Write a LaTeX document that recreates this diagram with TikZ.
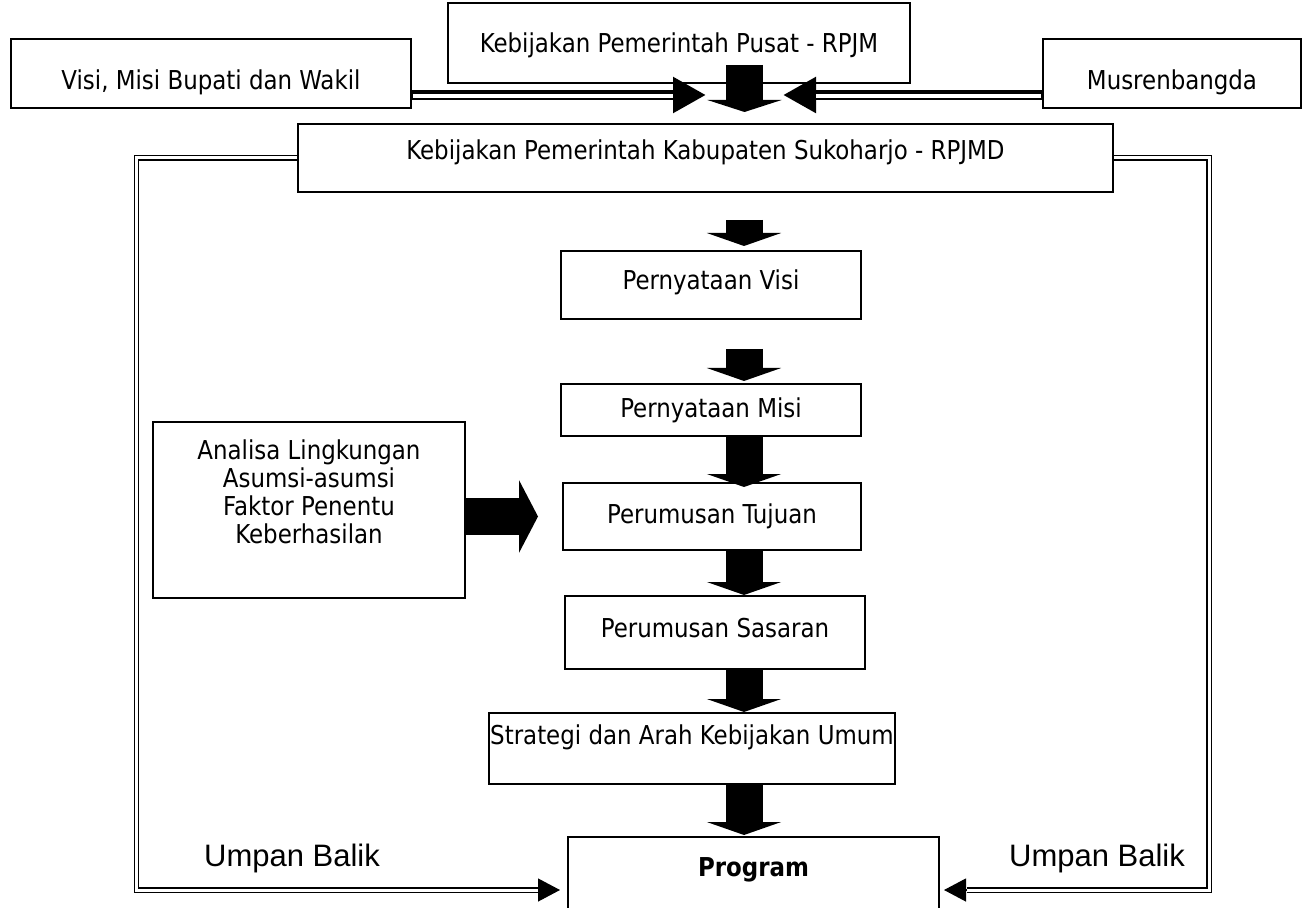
\documentclass[tikz,border=0pt]{standalone}
\usepackage{fontspec}
\setmainfont{DejaVu Sans Condensed}[FakeStretch=0.98]
\newfontfamily\arialfont{Liberation Sans}
\usetikzlibrary{arrows.meta}

\begin{document}
\begin{tikzpicture}[x=0.5pt, y=-0.5pt,
    box/.style={draw, line width=1pt, inner sep=0pt, anchor=north west,
      font=\fontsize{13}{14}\selectfont},
    blockarrow/.style={line width=18.5pt, -{Triangle[length=6.5pt,width=37pt]}},
    sidearrow/.style={line width=18.5pt, -{Triangle[length=9.5pt,width=36pt]}},
    band/.style={line width=5.2pt, -{Triangle[length=16.5pt,width=17pt]}},
    gap/.style={white, line width=1.8pt},
    feedback/.style={double, double distance=1.5pt, line width=0.6pt},
    feedtip/.style={line width=0.6pt, -{Triangle[length=11pt,width=11.5pt]}},
    note/.style={font=\arialfont\fontsize{15.5}{18}\selectfont}]
  \useasboundingbox (0,0) rectangle (1309,908);

  % top row
  \node[box, minimum width=200pt, minimum height=34.5pt, text height=16.5pt, text depth=0pt]
    (visimisi) at (10,38) {Visi, Misi Bupati dan Wakil};
  \node[box, minimum width=231pt, minimum height=40pt, text height=10pt, text depth=0pt]
    (pusat) at (447,2) {Kebijakan Pemerintah Pusat - RPJM};
  \node[box, minimum width=129pt, minimum height=34.5pt, text height=16.5pt, text depth=0pt]
    (musren) at (1042,38) {Musrenbangda};
  \node[box, minimum width=407.5pt, minimum height=34pt, text height=10pt, text depth=8pt]
    (rpjmd) at (297,123) {Kebijakan Pemerintah Kabupaten Sukoharjo - RPJMD};

  % main column
  \node[box, minimum width=150pt, minimum height=34pt, text height=10pt, text depth=5pt]
    (pvisi) at (560,250) {Pernyataan Visi};
  \node[box, minimum width=150pt, minimum height=26pt, text height=10pt, text depth=3pt]
    (pmisi) at (560,383) {Pernyataan Misi};
  \node[box, minimum width=149pt, minimum height=33.5pt, text height=10pt, text depth=3.5pt]
    (tujuan) at (562,482) {Perumusan Tujuan};
  \node[box, minimum width=150pt, minimum height=36.5pt, text height=10pt, text depth=5.5pt]
    (sasaran) at (564,595) {Perumusan Sasaran};
  \node[box, minimum width=203pt, minimum height=35.5pt, text height=10pt, text depth=14.5pt]
    (strategi) at (488,712) {Strategi dan Arah Kebijakan Umum};
  \node[box, minimum width=185.5pt, minimum height=53pt, text height=10pt, text depth=24pt]
    (program) at (567,836) {\bfseries Program};

  \node[box, minimum width=156pt, minimum height=88pt, align=center, text depth=18pt]
    (analisa) at (152,421) {Analisa Lingkungan\\Asumsi-asumsi\\Faktor Penentu\\Keberhasilan};

  \node[note] (umpankiri) at (292,858) {Umpan Balik};
  \node[note] (umpankanan) at (1097,858) {Umpan Balik};

  \coordinate (hub) at (744.5,95);
  \coordinate (col) at (744,0);
  \coordinate (fbl) at (136.5,500);
  \coordinate (fbr) at (1209,500);

  % inputs into the hub
  \path (visimisi.east |- hub) coordinate (bandl);
  \path (musren.west |- hub) coordinate (bandr);
  \draw[band] (bandl) -- ([xshift=-19.25pt]hub);
  \draw[gap] ([shift={(0.5pt,-0.65pt)}]bandl) -- ([shift={(-35.75pt,-0.65pt)}]hub);
  \draw[band] (bandr) -- ([xshift=19.25pt]hub);
  \draw[gap] ([shift={(-0.5pt,-0.65pt)}]bandr) -- ([shift={(35.75pt,-0.65pt)}]hub);
  \draw[blockarrow, -{Triangle[length=6pt,width=37pt]}] ([yshift=9.5pt]hub |- pusat.south) -- ([yshift=-8.5pt]hub);

  % column of block arrows
  \draw[blockarrow, shorten <=13.5pt, shorten >=2pt] (col |- rpjmd.south) -- (col |- pvisi.north);
  \draw[blockarrow, shorten <=14.5pt, shorten >=1pt] (col |- pvisi.south) -- (col |- pmisi.north);
  \draw[blockarrow, shorten >=-2.5pt] (col |- pmisi.south) -- (col |- tujuan.north);
  \draw[blockarrow] (col |- tujuan.south) -- (col |- sasaran.north);
  \draw[blockarrow] (col |- sasaran.south) -- (col |- strategi.north);
  \draw[blockarrow, shorten >=0.5pt] (col |- strategi.south) -- (col |- program.north);
  \draw[sidearrow, shorten >=12pt] (analisa.east |- tujuan.west) -- (tujuan.west);

  % feedback
  \draw[feedback, shorten >=14.5pt] (rpjmd.west) -| (fbl) |- (program.west);
  \draw[feedtip] ([xshift=-14.5pt]program.west) -- ([xshift=-3.5pt]program.west);
  \draw[feedback, shorten >=13.5pt] (rpjmd.east) -| (fbr) |- (program.east);
  \draw[feedtip] ([xshift=13.5pt]program.east) -- ([xshift=2pt]program.east);
\end{tikzpicture}
\end{document}
